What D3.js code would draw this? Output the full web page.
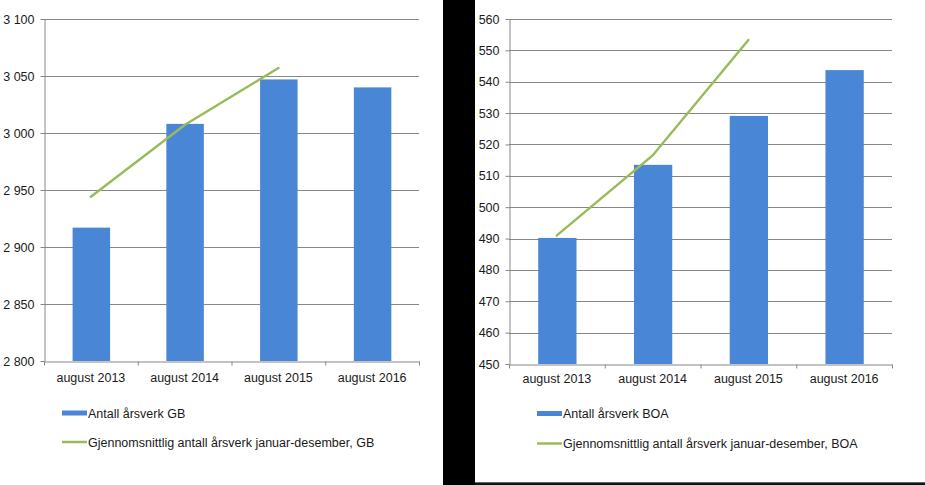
<!DOCTYPE html>
<html>
<head>
<meta charset="utf-8">
<script src="https://cdn.jsdelivr.net/npm/d3@7"></script>
<style>
  html, body { margin: 0; padding: 0; background: #ffffff; }
  svg { display: block; }
  text { font-family: "Liberation Sans", Arial, sans-serif; fill: #1a1a1a; }
</style>
</head>
<body>
<svg id="chart" width="925" height="485"></svg>
<script>
// ---- data ----
const categories = ["august 2013", "august 2014", "august 2015", "august 2016"];

const gbBarName = "Antall årsverk GB";
const gbLineName = "Gjennomsnittlig antall årsverk januar-desember, GB";
const gbBars = [2917, 3008, 3047, 3040];
const gbLine = [2944, 3007, 3057];
const gbTicks = [2800, 2850, 2900, 2950, 3000, 3050, 3100];

const boaBarName = "Antall årsverk BOA";
const boaLineName = "Gjennomsnittlig antall årsverk januar-desember, BOA";
const boaBars = [490.2, 513.5, 529.1, 543.7];
const boaLine = [491, 516.5, 553.3];
const boaTicks = [450, 460, 470, 480, 490, 500, 510, 520, 530, 540, 550, 560];

// ---- styles ----
const barColor = "#4a86d6";
const lineColor = "#9bbb59";
const gridColor = "#878787";
const fontSize = "12.5px";

const svg = d3.select("#chart");
svg.append("rect").attr("x", 0).attr("y", 0).attr("width", 925).attr("height", 485).attr("fill", "#fff");

const locale = d3.formatLocale({ decimal: ",", thousands: " ", grouping: [3], currency: ["", ""] });
const fmt = locale.format(",");

function drawChart(cfg) {
  const g = svg.append("g");
  const x = d3.scaleBand().domain(categories).range([cfg.x0, cfg.x1]).paddingInner(0).paddingOuter(0);
  const y = d3.scaleLinear().domain([cfg.ticks[0], cfg.ticks[cfg.ticks.length - 1]]).range([cfg.y1, cfg.y0]);
  const bw = x.bandwidth();

  // gridlines
  g.append("g").selectAll("line").data(cfg.ticks.slice(1)).join("line")
    .attr("x1", cfg.x0).attr("x2", cfg.x1)
    .attr("y1", d => Math.round(y(d)) + 0.5).attr("y2", d => Math.round(y(d)) + 0.5)
    .attr("stroke", gridColor).attr("stroke-width", 1);

  // bars
  g.append("g").selectAll("rect").data(cfg.bars).join("rect")
    .attr("x", (d, i) => x(categories[i]) + bw * 0.305)
    .attr("width", bw * 0.4)
    .attr("y", d => y(d))
    .attr("height", d => y(cfg.ticks[0]) - y(d))
    .attr("fill", barColor);

  // line
  const line = d3.line()
    .x((d, i) => x(categories[i]) + bw / 2)
    .y(d => y(d));
  g.append("path").datum(cfg.line)
    .attr("d", line)
    .attr("fill", "none")
    .attr("stroke", lineColor)
    .attr("stroke-width", 2.5)
    .attr("stroke-linecap", "round");

  // y axis
  const ya = g.append("g").attr("transform", `translate(${cfg.x0 + 0.5},0)`)
    .call(d3.axisLeft(y).tickValues(cfg.ticks).tickSize(4).tickSizeOuter(0).tickPadding(6).tickFormat(fmt));
  ya.select(".domain").attr("stroke", gridColor);
  ya.selectAll(".tick line").attr("stroke", gridColor);
  ya.selectAll(".tick text").style("font-size", fontSize).attr("fill", "#1a1a1a")
    .attr("font-family", null);

  // x axis
  const xb = d3.scaleLinear().domain([0, categories.length]).range([cfg.x0, cfg.x1]);
  const xa = g.append("g").attr("transform", `translate(0,${Math.round(cfg.y1) + 0.5})`)
    .call(d3.axisBottom(xb).tickValues(d3.range(categories.length + 1)).tickSize(4).tickSizeOuter(0).tickFormat(""));
  xa.select(".domain").attr("stroke", gridColor);
  xa.selectAll(".tick line").attr("stroke", gridColor);

  // x labels
  g.append("g").selectAll("text").data(categories).join("text")
    .attr("x", d => x(d) + bw / 2)
    .attr("y", cfg.labelY)
    .attr("text-anchor", "middle")
    .style("font-size", fontSize)
    .text(d => d);

  // legend
  const lg = g.append("g");
  lg.append("rect").attr("x", cfg.legX).attr("y", cfg.legY1 - 2.5).attr("width", 25).attr("height", 5).attr("fill", barColor);
  lg.append("text").attr("x", cfg.legX + 26).attr("y", cfg.legY1 + 4.5).style("font-size", fontSize).text(cfg.barName);
  lg.append("line").attr("x1", cfg.legX).attr("x2", cfg.legX + 25).attr("y1", cfg.legY2).attr("y2", cfg.legY2)
    .attr("stroke", lineColor).attr("stroke-width", 2.5);
  lg.append("text").attr("x", cfg.legX + 26).attr("y", cfg.legY2 + 4.5).style("font-size", fontSize).text(cfg.lineName);
}

drawChart({
  x0: 44, x1: 419, y0: 19, y1: 361,
  ticks: gbTicks, bars: gbBars, line: gbLine,
  labelY: 381.5, legX: 62, legY1: 413, legY2: 442,
  barName: gbBarName, lineName: gbLineName
});

drawChart({
  x0: 509, x1: 892, y0: 19, y1: 364,
  ticks: boaTicks, bars: boaBars, line: boaLine,
  labelY: 383, legX: 537, legY1: 413.5, legY2: 443.5,
  barName: boaBarName, lineName: boaLineName
});

// dark separator strip and bottom border
svg.append("rect").attr("x", 443).attr("y", 0).attr("width", 32).attr("height", 485).attr("fill", "#000");
svg.append("line").attr("x1", 475).attr("x2", 925).attr("y1", 482.5).attr("y2", 482.5).attr("stroke", "#666").attr("stroke-width", 1);
svg.append("rect").attr("x", 475).attr("y", 483).attr("width", 450).attr("height", 2).attr("fill", "#111");
</script>
</body>
</html>
